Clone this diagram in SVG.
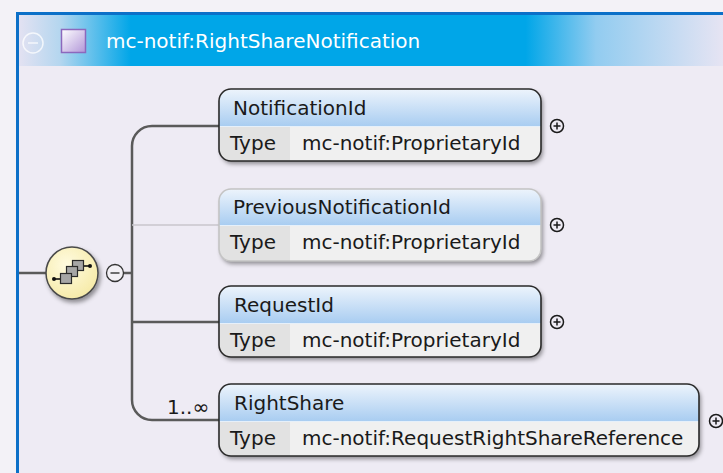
<svg xmlns="http://www.w3.org/2000/svg" width="723" height="473" viewBox="0 0 723 473">
<defs>
<linearGradient id="band" gradientUnits="userSpaceOnUse" x1="18" y1="0" x2="723" y2="0">
<stop offset="0" stop-color="#e4e2f2"/>
<stop offset="0.06" stop-color="#b4d6ef"/>
<stop offset="0.16" stop-color="#00a6e8"/>
<stop offset="0.72" stop-color="#00a6e8"/>
<stop offset="0.82" stop-color="#92ccf0"/>
<stop offset="1" stop-color="#e6e4f3"/>
</linearGradient>
<linearGradient id="hdr" x1="0" y1="0" x2="0" y2="1">
<stop offset="0" stop-color="#edf4fc"/>
<stop offset="1" stop-color="#a9cdf1"/>
</linearGradient>
<linearGradient id="sq" x1="0" y1="0" x2="1" y2="1">
<stop offset="0" stop-color="#ffffff"/>
<stop offset="1" stop-color="#b196d8"/>
</linearGradient>
<radialGradient id="seq" cx="0.4" cy="0.35" r="0.7">
<stop offset="0" stop-color="#fffbe0"/>
<stop offset="1" stop-color="#f6eaa6"/>
</radialGradient>
<filter id="sh" x="-10%" y="-10%" width="125%" height="140%">
<feDropShadow dx="2" dy="3" stdDeviation="2" flood-color="#000" flood-opacity="0.4"/>
</filter>
<style>
.t{font-family:"DejaVu Sans",Verdana,sans-serif;font-size:20px;fill:#1a1a1a}
.title{font-family:"DejaVu Sans",Verdana,sans-serif;font-size:20px;fill:#ffffff}
.body{fill:#f0f0f0}
.tcell{fill:#e2e2e2}
.out{fill:none;stroke:#2a2a2a;stroke-width:1.6}
.opt{fill:none;stroke:#c4c4c4;stroke-width:1.6}
.sep{stroke:#e6f0fa;stroke-width:1}
.conn{fill:none;stroke:#5a5a5a;stroke-width:2.5}
.connl{fill:none;stroke:#c8c6cc;stroke-width:1.5}
.pl{fill:none;stroke:#1a1a1a;stroke-width:1.5}
.sqr{fill:#a6a6a6;stroke:#2a2a2a;stroke-width:1.2}
</style>
</defs>
<rect x="0" y="0" width="723" height="473" fill="#f3f2f7"/>
<rect x="17" y="13" width="706" height="460" fill="#eeebf4"/>
<rect x="18" y="14" width="705" height="52" fill="url(#band)"/>
<path d="M17.5,473 V13.5 H723" fill="none" stroke="#0b70c8" stroke-width="3"/>
<g id="title">
<circle cx="33" cy="43" r="10" fill="none" stroke="#ffffff" stroke-opacity="0.75" stroke-width="1.5"/>
<line x1="28" y1="43" x2="38" y2="43" stroke="#ffffff" stroke-opacity="0.75" stroke-width="1.5"/>
<rect x="61.5" y="29.5" width="24" height="23" fill="url(#sq)" stroke="#8c68bd" stroke-width="1.5"/>
<text class="title" x="106" y="48">mc-notif:RightShareNotification</text>
</g>
<g id="connectors">
<line x1="19" y1="273" x2="47" y2="273" class="conn"/>
<line x1="123" y1="273" x2="132" y2="273" class="conn"/>
<path d="M219,126 H152 A20,20 0 0 0 132,146 V400 A20,20 0 0 0 152,420 H219" class="conn"/>
<line x1="132" y1="225" x2="219" y2="225" class="connl"/>
<line x1="132" y1="322" x2="219" y2="322" class="conn"/>
<text class="t" x="167" y="414">1..∞</text>
</g>
<g id="sequence">
<circle cx="72" cy="273" r="26" fill="url(#seq)" stroke="#4a4a4a" stroke-width="1.5" filter="url(#sh)"/>
<line x1="54" y1="279" x2="61" y2="279" stroke="#111" stroke-width="1.6"/>
<circle cx="54" cy="279" r="2" fill="#111"/>
<line x1="83" y1="266" x2="90" y2="266" stroke="#111" stroke-width="1.6"/>
<circle cx="90" cy="266" r="2" fill="#111"/>
<rect x="72.5" y="260.5" width="11" height="10" class="sqr"/>
<rect x="66.5" y="266.5" width="11" height="10" class="sqr"/>
<rect x="60.5" y="273.5" width="11" height="10" class="sqr"/>
<circle cx="115" cy="273" r="8.5" fill="#f2f0f5" stroke="#333" stroke-width="1.3"/>
<line x1="110.5" y1="273" x2="119.5" y2="273" stroke="#333" stroke-width="1.4"/>
</g>
<g id="NotificationId" transform="translate(219,89)">
<rect x="0" y="0" width="322" height="72" rx="12" class="body" filter="url(#sh)"/>
<path d="M0,37 V12 A12,12 0 0 1 12,0 H310 A12,12 0 0 1 322,12 V37 Z" fill="url(#hdr)"/>
<path d="M0,38 H71 V72 H12 A12,12 0 0 1 0,60 Z" class="tcell"/>
<line x1="0" y1="37.5" x2="322" y2="37.5" class="sep"/>
<rect x="0" y="0" width="322" height="72" rx="12" class="out"/>
<text class="t" x="14" y="26">NotificationId</text>
<text class="t" x="11" y="61">Type</text>
<text class="t" x="83" y="61">mc-notif:ProprietaryId</text>
<circle cx="338" cy="37" r="6.5" class="pl"/>
<path d="M334.5,37 H341.5 M338,33.5 V40.5" class="pl"/>
</g>
<g id="PreviousNotificationId" transform="translate(219,189)">
<rect x="0" y="0" width="322" height="72" rx="12" class="body" filter="url(#sh)"/>
<path d="M0,36 V12 A12,12 0 0 1 12,0 H310 A12,12 0 0 1 322,12 V36 Z" fill="url(#hdr)"/>
<path d="M0,37 H71 V72 H12 A12,12 0 0 1 0,60 Z" class="tcell"/>
<line x1="0" y1="36.5" x2="322" y2="36.5" class="sep"/>
<rect x="0" y="0" width="322" height="72" rx="12" class="opt"/>
<text class="t" x="14" y="25">PreviousNotificationId</text>
<text class="t" x="11" y="60">Type</text>
<text class="t" x="83" y="60">mc-notif:ProprietaryId</text>
<circle cx="338" cy="36" r="6.5" class="pl"/>
<path d="M334.5,36 H341.5 M338,32.5 V39.5" class="pl"/>
</g>
<g id="RequestId" transform="translate(219,286)">
<rect x="0" y="0" width="322" height="71" rx="12" class="body" filter="url(#sh)"/>
<path d="M0,37 V12 A12,12 0 0 1 12,0 H310 A12,12 0 0 1 322,12 V37 Z" fill="url(#hdr)"/>
<path d="M0,38 H71 V71 H12 A12,12 0 0 1 0,59 Z" class="tcell"/>
<line x1="0" y1="37.5" x2="322" y2="37.5" class="sep"/>
<rect x="0" y="0" width="322" height="71" rx="12" class="out"/>
<text class="t" x="15" y="26">RequestId</text>
<text class="t" x="11" y="61">Type</text>
<text class="t" x="83" y="61">mc-notif:ProprietaryId</text>
<circle cx="338" cy="36" r="6.5" class="pl"/>
<path d="M334.5,36 H341.5 M338,32.5 V39.5" class="pl"/>
</g>
<g id="RightShare" transform="translate(219,384)">
<rect x="0" y="0" width="480" height="72" rx="12" class="body" filter="url(#sh)"/>
<path d="M0,37 V12 A12,12 0 0 1 12,0 H468 A12,12 0 0 1 480,12 V37 Z" fill="url(#hdr)"/>
<path d="M0,38 H71 V72 H12 A12,12 0 0 1 0,60 Z" class="tcell"/>
<line x1="0" y1="37.5" x2="480" y2="37.5" class="sep"/>
<rect x="0" y="0" width="480" height="72" rx="12" class="out"/>
<text class="t" x="15" y="26">RightShare</text>
<text class="t" x="11" y="61">Type</text>
<text class="t" x="83" y="61">mc-notif:RequestRightShareReference</text>
<circle cx="497" cy="37" r="6.5" class="pl"/>
<path d="M493.5,37 H500.5 M497,33.5 V40.5" class="pl"/>
</g>
</svg>
